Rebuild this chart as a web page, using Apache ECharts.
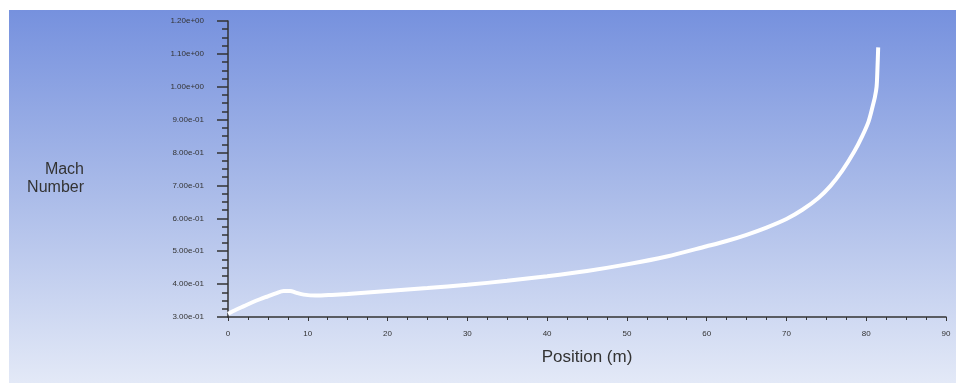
<!DOCTYPE html>
<html><head><meta charset="utf-8">
<script src="https://cdn.jsdelivr.net/npm/echarts@6/dist/echarts.min.js"></script>
<style>html,body{margin:0;padding:0;background:#fff;}#c{width:956px;height:383px;}</style>
</head><body><div id="c"></div>
<script>
const positions = [0,1,2,3,4,5,6,7,7.8,8.5,9.5,11,13,15,20,25,30,35,40,45,50,55,60,62.5,65,67.5,70,72,74,75.5,77,78.5,79.5,80.3,80.8,81.1,81.3,81.4,81.5];
const mach = [0.31,0.322,0.333,0.344,0.354,0.363,0.372,0.379,0.379,0.374,0.368,0.365,0.367,0.37,0.379,0.388,0.398,0.41,0.424,0.44,0.46,0.484,0.515,0.531,0.55,0.572,0.598,0.626,0.662,0.698,0.745,0.803,0.85,0.895,0.94,0.97,1.0,1.05,1.12];
const xTitle = 'Position (m)';
const yTitle = 'Mach\nNumber';

function fmtExp(v){
  const s = Number(v).toExponential(2);
  const m = s.match(/^(-?[\d.]+)e([+-])(\d+)$/);
  if(!m) return s;
  return m[1] + 'e' + m[2] + (m[3].length<2 ? '0'+m[3] : m[3]);
}
const FF = '"Liberation Sans", Arial, sans-serif';
const chart = echarts.init(document.getElementById('c'), null, {renderer:'canvas'});
chart.setOption({
  animation:false,
  backgroundColor:'#ffffff',
  graphic:[{
    type:'rect', z:-10, silent:true,
    shape:{x:9,y:10,width:947,height:373},
    style:{fill:new echarts.graphic.LinearGradient(0,0,0,1,[
      {offset:0,color:'#7691de'},
      {offset:0.5,color:'#abbce9'},
      {offset:1,color:'#e3e9f7'}
    ])}
  },{
    type:'text', right:872, top:161,
    style:{text:yTitle, font:'16px ' + FF, fill:'#333', textAlign:'right', lineHeight:18}
  }],
  grid:{left:228,right:10,top:21,bottom:66},
  xAxis:{
    type:'value', min:0, max:90, interval:10,
    name:xTitle, nameLocation:'middle', nameGap:32,
    nameTextStyle:{fontSize:17,color:'#333',fontFamily:FF},
    axisLine:{show:true,onZero:false,lineStyle:{color:'#333',width:1.5}},
    axisTick:{show:true,inside:false,length:4,lineStyle:{color:'#333'}},
    minorTick:{show:true,splitNumber:4,length:3,lineStyle:{color:'#333'}},
    axisLabel:{fontSize:8,color:'#333',margin:13,fontFamily:FF},
    splitLine:{show:false}
  },
  yAxis:{
    type:'value', min:0.3, max:1.2, interval:0.1,
    axisLine:{show:true,onZero:false,lineStyle:{color:'#333',width:1.5}},
    axisTick:{show:true,inside:false,length:11,lineStyle:{color:'#333',width:1.5}},
    minorTick:{show:true,splitNumber:4,length:6,lineStyle:{color:'#333',width:1.5}},
    axisLabel:{fontSize:8,color:'#333',margin:24,fontFamily:FF,
      formatter:function(v){return fmtExp(Math.round(v*100)/100);}},
    splitLine:{show:false}
  },
  series:[{
    type:'line', data:positions.map((p,i)=>[p,mach[i]]),
    showSymbol:false, smooth:0.3,
    lineStyle:{color:'#ffffff',width:4},
    itemStyle:{color:'#ffffff'}
  }]
});
</script></body></html>
